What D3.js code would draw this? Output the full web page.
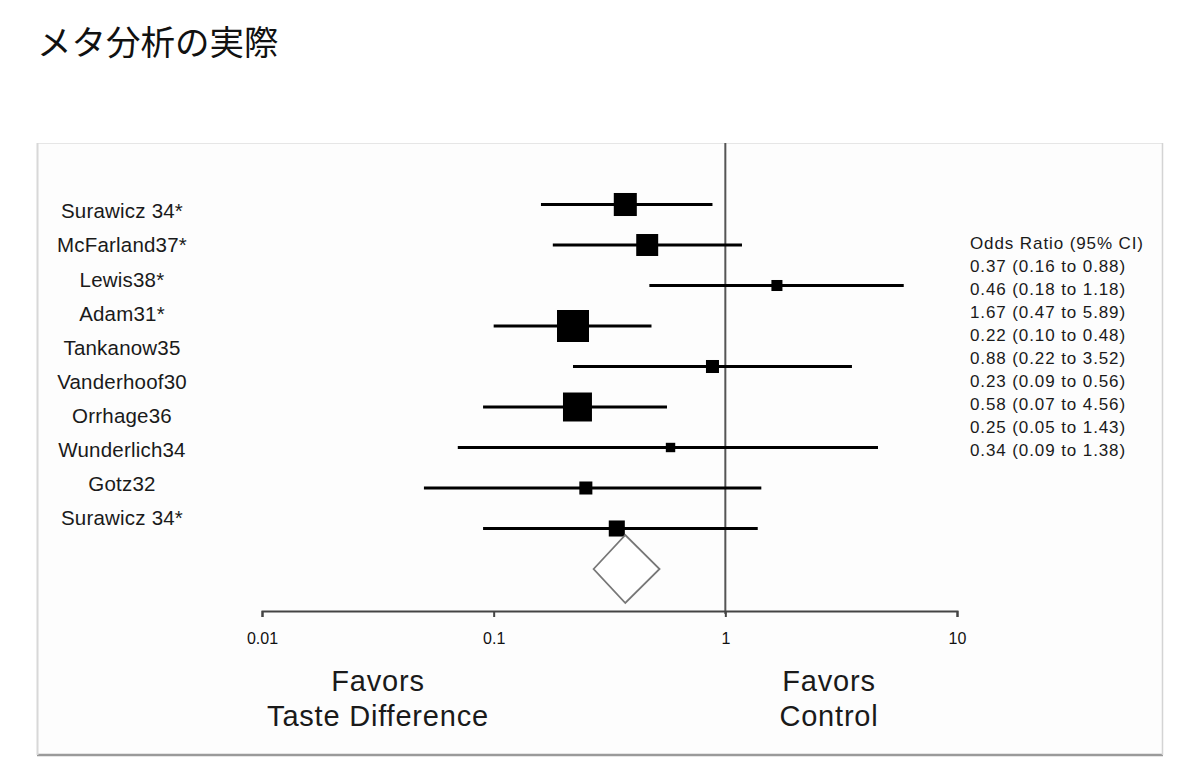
<!DOCTYPE html>
<html>
<head>
<meta charset="utf-8">
<script src="https://cdn.jsdelivr.net/npm/d3@7"></script>
<style>
  body { margin: 0; background: #fff; }
  svg { display: block; }
</style>
</head>
<body>
<div id="chart"></div>
<script>
const title = "メタ分析の実際";

// left labels (10 rows in the original, last one repeated)
const labels = ["Surawicz 34*", "McFarland37*", "Lewis38*", "Adam31*", "Tankanow35",
    "Vanderhoof30", "Orrhage36", "Wunderlich34", "Gotz32", "Surawicz 34*"];

// per-study odds ratios with 95% CI
const oddsRatio = [0.37, 0.46, 1.67, 0.22, 0.88, 0.23, 0.58, 0.25, 0.34];
const ciLow = [0.16, 0.18, 0.47, 0.10, 0.22, 0.09, 0.07, 0.05, 0.09];
const ciHigh = [0.88, 1.18, 5.89, 0.48, 3.52, 0.56, 4.56, 1.43, 1.38];
const weights = [14.4, 13.1, 3.3, 27.8, 4.6, 22.8, 2.4, 4.6, 7.0];

// pooled estimate
const pooled = { or: 0.37, lo: 0.27, hi: 0.52 };

const tickValues = [0.01, 0.1, 1, 10];
const tickLabels = ["0.01", "0.1", "1", "10"];
const ciHeader = "Odds Ratio (95% CI)";

const width = 1200;
const height = 781;

const svg = d3.select("#chart").append("svg")
    .attr("width", width)
    .attr("height", height)
    .attr("viewBox", [0, 0, width, height]);

svg.append("text")
    .attr("x", 37)
    .attr("y", 55)
    .attr("font-family", "'Noto Sans CJK JP', sans-serif")
    .attr("font-size", 34.5)
    .attr("fill", "#111")
    .text(title);

// frame of the pasted figure
svg.append("rect")
    .attr("x", 37.5).attr("y", 143.5)
    .attr("width", 1125).attr("height", 611)
    .attr("fill", "#fdfdfd")
    .attr("stroke", "#e6e6e6");
svg.append("line")
    .attr("x1", 37).attr("x2", 1163)
    .attr("y1", 755).attr("y2", 755)
    .attr("stroke", "#9a9a9a").attr("stroke-width", 2.5);
svg.append("line")
    .attr("x1", 1162.5).attr("x2", 1162.5)
    .attr("y1", 143).attr("y2", 755)
    .attr("stroke", "#d4d4d4").attr("stroke-width", 1.5);
svg.append("line")
    .attr("x1", 37.5).attr("x2", 37.5)
    .attr("y1", 143).attr("y2", 755)
    .attr("stroke", "#d8d8d8").attr("stroke-width", 2);

const x = d3.scaleLog().domain([0.01, 10]).range([262, 957]);

// marker rows: 9 studies + pooled diamond
const yRow = d3.scalePoint()
    .domain(d3.range(oddsRatio.length + 1))
    .range([204.5, 569]);

// label rows (not aligned with markers in the original)
const yLabel = d3.scalePoint()
    .domain(d3.range(labels.length))
    .range([211, 518]);

const size = d3.scaleSqrt().domain([0, d3.max(weights)]).range([0, 32]);

const studies = oddsRatio.map((v, i) => ({ or: v, lo: ciLow[i], hi: ciHigh[i], w: weights[i], i }));

// line of no effect
svg.append("line")
    .attr("x1", x(1)).attr("x2", x(1))
    .attr("y1", 143).attr("y2", 614)
    .attr("stroke", "#555")
    .attr("stroke-width", 2);

// axis
const axis = svg.append("g")
    .attr("transform", "translate(0,611)")
    .call(d3.axisBottom(x)
        .tickValues(tickValues)
        .tickFormat((d, i) => tickLabels[i])
        .tickSize(6)
        .tickPadding(16));
axis.select(".domain").attr("stroke", "#444").attr("stroke-width", 2);
axis.selectAll(".tick line").attr("stroke", "#444").attr("stroke-width", 2);
axis.selectAll(".tick text")
    .attr("font-family", "'Liberation Sans', Arial, sans-serif")
    .attr("font-size", 16)
    .attr("fill", "#111");

// confidence intervals
svg.append("g")
    .selectAll("line")
    .data(studies)
    .join("line")
    .attr("x1", d => x(d.lo))
    .attr("x2", d => x(d.hi))
    .attr("y1", d => yRow(d.i))
    .attr("y2", d => yRow(d.i))
    .attr("stroke", "#000")
    .attr("stroke-width", 3);

// weighted squares
svg.append("g")
    .selectAll("rect")
    .data(studies)
    .join("rect")
    .attr("x", d => x(d.or) - size(d.w) / 2)
    .attr("y", d => yRow(d.i) - size(d.w) / 2)
    .attr("width", d => size(d.w))
    .attr("height", d => size(d.w))
    .attr("fill", "#000");

// pooled diamond
const py = yRow(oddsRatio.length);
const halfH = 34;
svg.append("path")
    .attr("d", `M${x(pooled.lo)},${py} L${x(pooled.or)},${py - halfH} L${x(pooled.hi)},${py} L${x(pooled.or)},${py + halfH} Z`)
    .attr("fill", "#fff")
    .attr("stroke", "#777")
    .attr("stroke-width", 1.8);

// study labels
svg.append("g")
    .selectAll("text")
    .data(labels)
    .join("text")
    .attr("x", 122)
    .attr("y", (d, i) => yLabel(i))
    .attr("dy", "0.36em")
    .attr("text-anchor", "middle")
    .attr("font-family", "'Liberation Sans', Arial, sans-serif")
    .attr("font-size", 20.5)
    .attr("letter-spacing", 0.2)
    .attr("fill", "#1a1a1a")
    .text(d => d);

// odds ratio column
const fmt = d3.format(".2f");
const ciText = [ciHeader].concat(studies.map(d => `${fmt(d.or)} (${fmt(d.lo)} to ${fmt(d.hi)})`));
const yCi = d3.scalePoint().domain(d3.range(ciText.length)).range([243, 450]);
svg.append("g")
    .selectAll("text")
    .data(ciText)
    .join("text")
    .attr("x", 970)
    .attr("y", (d, i) => yCi(i))
    .attr("dy", "0.36em")
    .attr("font-family", "'Liberation Sans', Arial, sans-serif")
    .attr("font-size", 17)
    .attr("letter-spacing", 0.9)
    .attr("fill", "#1a1a1a")
    .text(d => d);

// favors captions
const captions = [
    { cx: 378, lines: ["Favors", "Taste Difference"] },
    { cx: 829, lines: ["Favors", "Control"] }
];
captions.forEach(c => {
    svg.append("g")
        .selectAll("text")
        .data(c.lines)
        .join("text")
        .attr("x", c.cx)
        .attr("y", (d, i) => 681 + i * 35)
        .attr("dy", "0.36em")
        .attr("text-anchor", "middle")
        .attr("font-family", "'Liberation Sans', Arial, sans-serif")
        .attr("font-size", 29)
        .attr("letter-spacing", 0.8)
        .attr("fill", "#1a1a1a")
        .text(d => d);
});
</script>
</body>
</html>
